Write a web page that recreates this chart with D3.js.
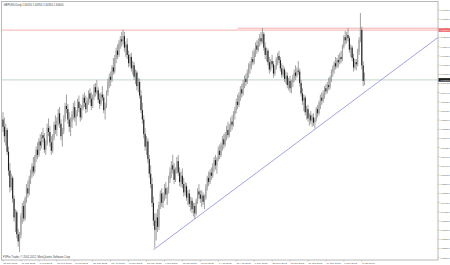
<!DOCTYPE html>
<html>
<head>
<meta charset="utf-8">
<script src="https://cdn.jsdelivr.net/npm/d3@7"></script>
<style>
  body { margin: 0; background: #fff; }
  svg { display: block; }
  text { font-family: Arial, "Liberation Sans", sans-serif; }
</style>
</head>
<body>
<div id="wrapper"></div>
<script>
const symbol = "GBPUSD,Daily"
const copyright = "FXPro Trader, © 2001-2012, MetaQuotes Software Corp."

// daily bars: [open, high, low, close]
const ohlc = [
  [1.5870,1.5905,1.5810,1.5835],[1.5835,1.5880,1.5760,1.5790],[1.5790,1.5850,1.5745,1.5820],[1.5820,1.5830,1.5700,1.5715],
  [1.5715,1.5740,1.5600,1.5625],[1.5625,1.5660,1.5520,1.5545],[1.5545,1.5610,1.5530,1.5590],[1.5590,1.5600,1.5470,1.5490],
  [1.5490,1.5505,1.5380,1.5400],[1.5400,1.5440,1.5330,1.5425],[1.5425,1.5435,1.5300,1.5320],[1.5320,1.5345,1.5260,1.5285],
  [1.5285,1.5330,1.5234,1.5315],[1.5315,1.5420,1.5300,1.5405],[1.5405,1.5470,1.5370,1.5455],[1.5455,1.5480,1.5380,1.5395],
  [1.5395,1.5500,1.5385,1.5490],[1.5490,1.5560,1.5470,1.5540],[1.5540,1.5575,1.5495,1.5515],[1.5515,1.5600,1.5505,1.5585],
  [1.5585,1.5630,1.5560,1.5610],[1.5610,1.5660,1.5590,1.5645],[1.5645,1.5690,1.5600,1.5620],[1.5620,1.5700,1.5610,1.5690],
  [1.5690,1.5740,1.5665,1.5725],[1.5725,1.5760,1.5680,1.5700],[1.5700,1.5780,1.5690,1.5765],[1.5765,1.5800,1.5720,1.5745],
  [1.5745,1.5810,1.5730,1.5795],[1.5795,1.5830,1.5760,1.5780],[1.5780,1.5805,1.5710,1.5725],[1.5725,1.5770,1.5700,1.5755],
  [1.5755,1.5850,1.5745,1.5830],[1.5830,1.5875,1.5790,1.5810],[1.5810,1.5840,1.5740,1.5760],[1.5760,1.5790,1.5700,1.5720],
  [1.5720,1.5800,1.5710,1.5785],[1.5785,1.5860,1.5770,1.5845],[1.5845,1.5890,1.5800,1.5820],[1.5820,1.5880,1.5790,1.5865],
  [1.5865,1.5920,1.5840,1.5900],[1.5900,1.5930,1.5830,1.5850],[1.5850,1.5870,1.5770,1.5790],[1.5790,1.5830,1.5740,1.5815],
  [1.5815,1.5890,1.5800,1.5875],[1.5875,1.5950,1.5860,1.5935],[1.5935,1.5990,1.5900,1.5920],[1.5920,1.5945,1.5850,1.5870],
  [1.5870,1.5905,1.5810,1.5835],[1.5835,1.5880,1.5790,1.5860],[1.5860,1.5910,1.5830,1.5895],[1.5895,1.5950,1.5870,1.5930],
  [1.5930,1.5960,1.5860,1.5880],[1.5880,1.5915,1.5840,1.5900],[1.5900,1.5970,1.5885,1.5955],[1.5955,1.5985,1.5905,1.5925],
  [1.5925,1.5945,1.5860,1.5880],[1.5880,1.5940,1.5870,1.5925],[1.5925,1.5990,1.5915,1.5975],[1.5975,1.6000,1.5930,1.5950],
  [1.5950,1.5985,1.5900,1.5920],[1.5920,1.5975,1.5905,1.5960],[1.5960,1.6010,1.5940,1.5995],[1.5995,1.6020,1.5950,1.5970],
  [1.5970,1.6000,1.5915,1.5935],[1.5935,1.5990,1.5925,1.5980],[1.5980,1.6040,1.5965,1.6025],[1.6025,1.6045,1.5980,1.6000],
  [1.6000,1.6060,1.5990,1.6010],[1.6010,1.6025,1.5950,1.5965],[1.5965,1.5995,1.5920,1.5945],[1.5945,1.6000,1.5935,1.5990],
  [1.5990,1.6030,1.5960,1.5975],[1.5975,1.5990,1.5900,1.5915],[1.5915,1.5950,1.5870,1.5935],[1.5935,1.6010,1.5925,1.6000],
  [1.6000,1.6065,1.5985,1.6050],[1.6050,1.6090,1.6020,1.6075],[1.6075,1.6100,1.6030,1.6060],[1.6060,1.6130,1.6050,1.6120],
  [1.6120,1.6165,1.6085,1.6100],[1.6100,1.6180,1.6090,1.6165],[1.6165,1.6215,1.6140,1.6200],[1.6200,1.6230,1.6160,1.6180],
  [1.6180,1.6250,1.6170,1.6235],[1.6235,1.6270,1.6210,1.6255],[1.6255,1.6290,1.6220,1.6245],[1.6245,1.6301,1.6230,1.6270],
  [1.6270,1.6290,1.6195,1.6215],[1.6215,1.6245,1.6170,1.6230],[1.6230,1.6260,1.6160,1.6180],[1.6180,1.6200,1.6120,1.6140],
  [1.6140,1.6185,1.6125,1.6170],[1.6170,1.6190,1.6100,1.6115],[1.6115,1.6150,1.6085,1.6130],[1.6130,1.6145,1.6060,1.6075],
  [1.6075,1.6110,1.6040,1.6095],[1.6095,1.6105,1.6010,1.6030],[1.6030,1.6070,1.6000,1.6050],[1.6050,1.6065,1.5970,1.5985],
  [1.5985,1.6010,1.5900,1.5915],[1.5915,1.5950,1.5850,1.5870],[1.5870,1.5890,1.5780,1.5800],[1.5800,1.5830,1.5720,1.5740],
  [1.5740,1.5790,1.5700,1.5765],[1.5765,1.5780,1.5660,1.5680],[1.5680,1.5700,1.5590,1.5610],[1.5610,1.5650,1.5540,1.5560],
  [1.5560,1.5590,1.5450,1.5470],[1.5470,1.5500,1.5360,1.5385],[1.5385,1.5420,1.5255,1.5340],[1.5340,1.5420,1.5290,1.5400],
  [1.5400,1.5440,1.5330,1.5355],[1.5355,1.5475,1.5340,1.5460],[1.5460,1.5530,1.5440,1.5515],[1.5515,1.5540,1.5450,1.5470],
  [1.5470,1.5520,1.5445,1.5505],[1.5505,1.5560,1.5480,1.5540],[1.5540,1.5570,1.5490,1.5510],[1.5510,1.5545,1.5460,1.5530],
  [1.5530,1.5600,1.5515,1.5585],[1.5585,1.5640,1.5565,1.5620],[1.5620,1.5670,1.5590,1.5650],[1.5650,1.5700,1.5610,1.5630],
  [1.5630,1.5660,1.5560,1.5580],[1.5580,1.5640,1.5570,1.5625],[1.5625,1.5690,1.5610,1.5670],[1.5670,1.5700,1.5600,1.5615],
  [1.5615,1.5640,1.5550,1.5570],[1.5570,1.5620,1.5545,1.5600],[1.5600,1.5635,1.5540,1.5560],[1.5560,1.5590,1.5500,1.5520],
  [1.5520,1.5570,1.5505,1.5550],[1.5550,1.5565,1.5480,1.5495],[1.5495,1.5530,1.5460,1.5515],[1.5515,1.5535,1.5450,1.5465],
  [1.5465,1.5500,1.5430,1.5480],[1.5480,1.5495,1.5420,1.5440],[1.5440,1.5470,1.5405,1.5455],[1.5455,1.5470,1.5393,1.5420],
  [1.5420,1.5490,1.5410,1.5480],[1.5480,1.5540,1.5465,1.5525],[1.5525,1.5560,1.5490,1.5510],[1.5510,1.5530,1.5470,1.5490],
  [1.5490,1.5530,1.5450,1.5505],[1.5505,1.5520,1.5460,1.5475],[1.5475,1.5510,1.5440,1.5495],[1.5495,1.5560,1.5485,1.5545],
  [1.5545,1.5600,1.5530,1.5590],[1.5590,1.5620,1.5550,1.5570],[1.5570,1.5630,1.5560,1.5615],[1.5615,1.5640,1.5580,1.5600],
  [1.5600,1.5660,1.5590,1.5645],[1.5645,1.5690,1.5620,1.5675],[1.5675,1.5700,1.5630,1.5650],[1.5650,1.5690,1.5610,1.5680],
  [1.5680,1.5740,1.5670,1.5720],[1.5720,1.5750,1.5680,1.5700],[1.5700,1.5760,1.5690,1.5745],[1.5745,1.5790,1.5720,1.5775],
  [1.5775,1.5800,1.5730,1.5750],[1.5750,1.5810,1.5740,1.5800],[1.5800,1.5840,1.5770,1.5820],[1.5820,1.5860,1.5780,1.5795],
  [1.5795,1.5850,1.5785,1.5835],[1.5835,1.5880,1.5810,1.5860],[1.5860,1.5890,1.5820,1.5845],[1.5845,1.5910,1.5835,1.5895],
  [1.5895,1.5930,1.5870,1.5915],[1.5915,1.5970,1.5900,1.5955],[1.5955,1.5990,1.5920,1.5940],[1.5940,1.6000,1.5930,1.5985],
  [1.5985,1.6030,1.5960,1.6015],[1.6015,1.6040,1.5975,1.5995],[1.5995,1.6060,1.5985,1.6045],[1.6045,1.6080,1.6020,1.6065],
  [1.6065,1.6090,1.6030,1.6050],[1.6050,1.6110,1.6040,1.6095],[1.6095,1.6140,1.6070,1.6120],[1.6120,1.6150,1.6090,1.6135],
  [1.6135,1.6170,1.6110,1.6160],[1.6160,1.6200,1.6130,1.6145],[1.6145,1.6210,1.6135,1.6195],[1.6195,1.6240,1.6170,1.6225],
  [1.6225,1.6250,1.6185,1.6205],[1.6205,1.6260,1.6195,1.6245],[1.6245,1.6280,1.6220,1.6260],[1.6260,1.6290,1.6230,1.6245],
  [1.6245,1.6309,1.6235,1.6280],[1.6280,1.6290,1.6200,1.6215],[1.6215,1.6240,1.6160,1.6180],[1.6180,1.6215,1.6150,1.6200],
  [1.6200,1.6210,1.6130,1.6145],[1.6145,1.6170,1.6090,1.6110],[1.6110,1.6160,1.6100,1.6150],[1.6150,1.6180,1.6120,1.6135],
  [1.6135,1.6150,1.6070,1.6090],[1.6090,1.6130,1.6080,1.6120],[1.6120,1.6170,1.6110,1.6160],[1.6160,1.6190,1.6130,1.6175],
  [1.6175,1.6200,1.6140,1.6155],[1.6155,1.6170,1.6100,1.6115],[1.6115,1.6140,1.6070,1.6085],[1.6085,1.6130,1.6075,1.6110],
  [1.6110,1.6120,1.6050,1.6065],[1.6065,1.6100,1.6040,1.6080],[1.6080,1.6095,1.6020,1.6035],[1.6035,1.6070,1.6010,1.6055],
  [1.6055,1.6080,1.6000,1.6020],[1.6020,1.6060,1.5995,1.6045],[1.6045,1.6085,1.6025,1.6070],[1.6070,1.6110,1.6050,1.6095],
  [1.6095,1.6130,1.6060,1.6080],[1.6080,1.6120,1.6070,1.6105],[1.6105,1.6150,1.6085,1.6100],[1.6100,1.6115,1.6030,1.6045],
  [1.6045,1.6060,1.5980,1.5995],[1.5995,1.6020,1.5940,1.5960],[1.5960,1.5990,1.5910,1.5975],[1.5975,1.5985,1.5890,1.5905],
  [1.5905,1.5935,1.5870,1.5920],[1.5920,1.5940,1.5860,1.5875],[1.5875,1.5900,1.5840,1.5890],[1.5890,1.5910,1.5850,1.5865],
  [1.5865,1.5895,1.5835,1.5880],[1.5880,1.5900,1.5840,1.5855],[1.5855,1.5880,1.5827,1.5870],[1.5870,1.5930,1.5860,1.5920],
  [1.5920,1.5940,1.5880,1.5900],[1.5900,1.5960,1.5890,1.5950],[1.5950,1.5990,1.5920,1.5975],[1.5975,1.6000,1.5940,1.5960],
  [1.5960,1.6010,1.5950,1.5995],[1.5995,1.6030,1.5970,1.6020],[1.6020,1.6040,1.5990,1.6005],[1.6005,1.6050,1.5995,1.6035],
  [1.6035,1.6070,1.6010,1.6025],[1.6025,1.6080,1.6015,1.6070],[1.6070,1.6110,1.6050,1.6100],[1.6100,1.6130,1.6075,1.6115],
  [1.6115,1.6150,1.6090,1.6140],[1.6140,1.6170,1.6110,1.6125],[1.6125,1.6165,1.6115,1.6155],[1.6155,1.6180,1.6120,1.6145],
  [1.6145,1.6190,1.6135,1.6170],[1.6170,1.6200,1.6140,1.6160],[1.6160,1.6230,1.6150,1.6220],[1.6220,1.6275,1.6210,1.6265],
  [1.6265,1.6295,1.6230,1.6250],[1.6250,1.6290,1.6235,1.6275],[1.6275,1.6308,1.6245,1.6260],[1.6260,1.6270,1.6190,1.6205],
  [1.6205,1.6230,1.6170,1.6215],[1.6215,1.6225,1.6150,1.6165],[1.6165,1.6185,1.6100,1.6120],[1.6120,1.6160,1.6110,1.6145],
  [1.6145,1.6160,1.6105,1.6135],[1.6135,1.6210,1.6125,1.6195],[1.6195,1.6265,1.6180,1.6250],[1.6250,1.6381,1.6240,1.6300],
  [1.6300,1.6315,1.6110,1.6130],[1.6130,1.6150,1.6030,1.6055],[1.6055,1.6095,1.6035,1.6060]
]

// one date label every 13 bars
const labelEvery = 13
const dateLabels = ["27 Dec 2011","13 Jan 2012","1 Feb 2012","20 Feb 2012","8 Mar 2012","27 Mar 2012",
  "13 Apr 2012","2 May 2012","21 May 2012","7 Jun 2012","26 Jun 2012","13 Jul 2012","1 Aug 2012",
  "20 Aug 2012","6 Sep 2012","25 Sep 2012","12 Oct 2012","31 Oct 2012","19 Nov 2012","6 Dec 2012","2 Jan 2013"]

const priceTicks = [1.63950,1.63510,1.63070,1.62630,1.62190,1.61750,1.61310,1.60870,1.60430,1.59990,
  1.59550,1.59110,1.58670,1.58230,1.57790,1.57350,1.56910,1.56470,1.56030,1.55590,1.55150,1.54710,
  1.54270,1.53830,1.53390,1.52950,1.52510,1.52070]

// horizontal levels (price, first bar)
const redLevels = [[1.6299, 0], [1.6308, 170]]
// trend line anchors (bar, price)
const trendPoints = [[109, 1.5245], [226, 1.5823]]

function drawChart() {
  let dim = {
    width: 450,
    height: 265,
    left: 1.5,
    right: 438,
    top: 1.5,
    bottom: 260,
  }

  const svg = d3.select("#wrapper")
    .append("svg")
    .attr("width", dim.width)
    .attr("height", dim.height)

  // scales
  const x = d3.scaleLinear()
    .domain([0, 315])
    .range([3, 3 + 315 * 1.38])
  const y = d3.scaleLinear()
    .domain([1.51958, 1.64338])
    .range([dim.bottom, 2])

  svg.append("clipPath").attr("id", "plot")
    .append("rect")
    .attr("x", dim.left).attr("y", dim.top)
    .attr("width", dim.right - dim.left).attr("height", dim.bottom - dim.top)

  // frame
  svg.append("rect")
    .attr("x", dim.left).attr("y", dim.top)
    .attr("width", dim.right - dim.left).attr("height", dim.bottom - dim.top)
    .attr("fill", "none").attr("stroke", "#a8a8a8").attr("stroke-width", 0.8)

  const plot = svg.append("g").attr("clip-path", "url(#plot)")

  const last = ohlc[ohlc.length - 1]

  // bid line
  plot.append("line")
    .attr("x1", dim.left).attr("x2", dim.right)
    .attr("y1", y(last[3])).attr("y2", y(last[3]))
    .attr("stroke", "#b5cbb9").attr("stroke-width", 0.8)

  // red levels
  redLevels.forEach(([p, b]) => {
    plot.append("line")
      .attr("x1", b === 0 ? dim.left : x(b)).attr("x2", dim.right)
      .attr("y1", y(p)).attr("y2", y(p))
      .attr("stroke", "#f08a8a").attr("stroke-width", 0.9).attr("opacity", 0.75)
  })

  // trend line, extended to the right edge
  const trend = d3.scaleLinear()
    .domain(trendPoints.map(d => d[0]))
    .range(trendPoints.map(d => d[1]))
  plot.append("line")
    .attr("x1", x(trendPoints[0][0])).attr("y1", y(trendPoints[0][1]))
    .attr("x2", x(315)).attr("y2", y(trend(315)))
    .attr("stroke", "#8c8ce0").attr("stroke-width", 0.8)

  // candles
  const bars = plot.selectAll("g.bar")
    .data(ohlc)
    .join("g")
    .attr("class", "bar")

  bars.append("line")
    .attr("x1", (d, i) => x(i)).attr("x2", (d, i) => x(i))
    .attr("y1", d => y(d[1])).attr("y2", d => y(d[2]))
    .attr("stroke", "#7a7a7a").attr("stroke-width", 0.7)

  bars.append("rect")
    .attr("x", (d, i) => x(i) - 0.55)
    .attr("width", 1.1)
    .attr("y", d => y(Math.max(d[0], d[3])))
    .attr("height", d => Math.max(0.6, Math.abs(y(d[0]) - y(d[3]))))
    .attr("fill", d => d[3] < d[0] ? "#1c1c1c" : "#a0a0a0")

  // price axis
  priceTicks.forEach(v => {
    svg.append("line")
      .attr("x1", dim.right).attr("x2", dim.right + 1.5)
      .attr("y1", y(v)).attr("y2", y(v))
      .attr("stroke", "#999").attr("stroke-width", 0.5)
    svg.append("text")
      .attr("x", dim.right + 2.5).attr("y", y(v) + 0.9)
      .attr("font-size", 2.5).attr("fill", "#555")
      .text(v.toFixed(5))
  })

  // level labels on the price axis
  const tag = (p, fill) => {
    svg.append("rect")
      .attr("x", dim.right + 0.5).attr("y", y(p) - 1.8)
      .attr("width", 12).attr("height", 3.6).attr("fill", fill)
    svg.append("text")
      .attr("x", dim.right + 2.5).attr("y", y(p) + 0.9)
      .attr("font-size", 2.5).attr("fill", "#fff")
      .text(p.toFixed(5))
  }
  tag(redLevels[0][0], "#f06a6a")
  tag(last[3], "#222")

  // date axis
  dateLabels.forEach((t, k) => {
    const xi = x(k * labelEvery)
    svg.append("line")
      .attr("x1", xi).attr("x2", xi)
      .attr("y1", dim.bottom).attr("y2", dim.bottom + 1.5)
      .attr("stroke", "#999").attr("stroke-width", 0.5)
    svg.append("text")
      .attr("x", xi + 0.5).attr("y", 264.3)
      .attr("font-size", 2.5).attr("fill", "#555")
      .text(t)
  })

  // captions
  svg.append("text")
    .attr("x", 3.5).attr("y", 5.8)
    .attr("font-size", 2.7).attr("fill", "#444")
    .text(`${symbol}  ${last.map(v => v.toFixed(5)).join(" ")}`)
  svg.append("text")
    .attr("x", 3).attr("y", 258.3)
    .attr("font-size", 2.7).attr("fill", "#444")
    .text(copyright)
}
drawChart()
</script>
</body>
</html>
